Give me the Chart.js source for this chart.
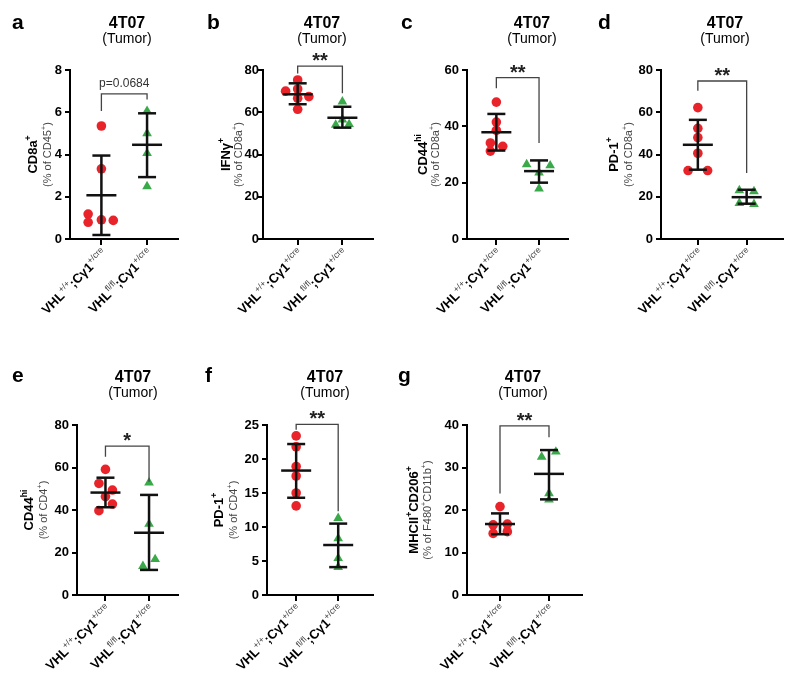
<!DOCTYPE html>
<html>
<head>
<meta charset="utf-8">
<script src="https://cdn.jsdelivr.net/npm/chart.js@4.4.1/dist/chart.umd.min.js"></script>
<style>
  html, body { margin: 0; padding: 0; background: #fff; }
  #fig { position: relative; width: 800px; height: 691px; overflow: hidden; background: #fff; }
  #fig canvas { position: absolute; }
</style>
</head>
<body>
<div id="fig"></div>
<script>
const FONT = '"Liberation Sans", Arial, Helvetica, sans-serif';
const RED = '#e8232a';
const GREEN = '#3aa94a';
const INK = '#111';

// text, ^{...} marks a superscript
const categories = ['VHL^{+/+};Cγ1^{+/cre}', 'VHL^{fl/fl};Cγ1^{+/cre}'];
const panelLetters = ['a', 'b', 'c', 'd', 'e', 'f', 'g'];
const titleLine1 = '4T07';
const titleLine2 = '(Tumor)';
const yTitles = ['CD8a^{+}', 'IFNγ^{+}', 'CD44^{hi}', 'PD-1^{+}', 'CD44^{hi}', 'PD-1^{+}', 'MHCII^{+}CD206^{+}'];
const ySubtitles = ['(% of CD45^{+})', '(% of CD8a^{+})', '(% of CD8a^{+})', '(% of CD8a^{+})',
  '(% of CD4^{+})', '(% of CD4^{+})', '(% of F480^{+}CD11b^{+})'];
const yMax = [8, 80, 60, 80, 80, 25, 40];
const yStep = [2, 20, 20, 20, 20, 5, 10];

// VHL+/+ (red circles)
const wtValues = [
  [5.35, 3.32, 1.18, 0.79, 0.91, 0.88],
  [75.3, 71.0, 70.0, 66.6, 67.4, 61.4],
  [48.6, 41.5, 38.6, 34.1, 32.9, 31.2],
  [62.2, 52.4, 48.0, 40.6, 32.4, 32.4],
  [59.1, 52.5, 49.4, 46.3, 42.8, 39.7],
  [23.4, 21.8, 18.9, 17.5, 15.0, 13.1],
  [20.8, 16.5, 16.7, 14.5, 14.9],
];
const wtJitter = [
  [0, 0, -0.29, -0.29, 0, 0.26],
  [0, 0, -0.27, 0, 0.25, 0],
  [0, 0, 0, -0.14, 0.15, -0.14],
  [0, 0, 0, 0, -0.2, 0.2],
  [0, -0.15, 0.16, 0, 0.16, -0.15],
  [0, 0, 0, 0, 0, 0],
  [0, -0.14, 0.15, -0.14, 0.15],
];
// VHL fl/fl (green triangles)
const koValues = [
  [6.06, 5.0, 4.06, 2.49],
  [65.0, 56.5, 54.0, 54.3],
  [26.5, 26.1, 23.5, 17.9],
  [23.0, 22.5, 17.0, 16.5],
  [52.9, 33.4, 16.8, 13.6],
  [11.3, 8.3, 5.4, 4.1],
  [32.5, 33.7, 23.9, 22.4],
];
const koJitter = [
  [0, 0, 0, 0],
  [0, 0, -0.15, 0.15],
  [-0.29, 0.26, 0, 0],
  [-0.15, 0.15, -0.15, 0.15],
  [0, 0, 0.14, -0.14],
  [0, 0, 0, 0],
  [-0.15, 0.14, 0, 0],
];

// mean +/- SD as drawn
const wtMean = [2.07, 68.5, 37.9, 44.6, 48.2, 18.3, 16.7];
const wtSdLow = [0.19, 63.8, 31.4, 32.8, 41.3, 14.3, 14.3];
const wtSdHigh = [3.95, 73.7, 44.4, 56.4, 55.2, 22.2, 19.2];
const koMean = [4.46, 57.4, 24.1, 19.8, 29.3, 7.35, 28.5];
const koSdLow = [2.93, 52.7, 20.0, 16.7, 11.8, 4.1, 22.5];
const koSdHigh = [5.95, 62.6, 27.9, 23.3, 47.1, 10.5, 34.1];

// significance brackets
const sigLabels = ['p=0.0684', '**', '**', '**', '*', '**', '**'];
const bracketTop = [6.87, 81.8, 57.3, 74.8, 70.1, 25.1, 39.8];
const bracketLeftEnd = [6.06, 78.4, 53.5, 70.2, 65.1, 24.3, 23.9];
const bracketRightEnd = [6.6, 69.0, 34.1, 31.2, 53.3, 12.3, 37.1];

// page layout of each panel (pixels)
const LAYOUT = [
  { left: 0, top: 0, w: 195, h: 330, axisX: 70, axisTop: 70, axisBottom: 239, right: 183, cat1: 103, cat2: 151,
    titleX: 127, titleY: 28, letterX: 12, letterY: 29, yTitleX: 32, ySubX: 47, tickPad: 3 },
  { left: 195, top: 0, w: 195, h: 330, axisX: 263, axisTop: 70, axisBottom: 239, right: 383, cat1: 301, cat2: 350,
    titleX: 322, titleY: 28, letterX: 207, letterY: 29, yTitleX: 225, ySubX: 238, tickPad: -1 },
  { left: 390, top: 0, w: 195, h: 330, axisX: 467, axisTop: 70, axisBottom: 239, right: 580, cat1: 500, cat2: 548,
    titleX: 532, titleY: 28, letterX: 401, letterY: 29, yTitleX: 422, ySubX: 435, tickPad: 3 },
  { left: 585, top: 0, w: 215, h: 330, axisX: 661, axisTop: 70, axisBottom: 239, right: 783, cat1: 698, cat2: 747,
    titleX: 725, titleY: 28, letterX: 598, letterY: 29, yTitleX: 613, ySubX: 628, tickPad: 3 },
  { left: 0, top: 330, w: 195, h: 361, axisX: 77, axisTop: 425, axisBottom: 595, right: 190, cat1: 109, cat2: 158,
    titleX: 133, titleY: 382, letterX: 12, letterY: 382, yTitleX: 28, ySubX: 43, tickPad: 3 },
  { left: 195, top: 330, w: 195, h: 361, axisX: 267, axisTop: 425, axisBottom: 595, right: 390, cat1: 301, cat2: 350,
    titleX: 325, titleY: 382, letterX: 205, letterY: 382, yTitleX: 218, ySubX: 233, tickPad: 3 },
  { left: 390, top: 330, w: 210, h: 361, axisX: 467, axisTop: 425, axisBottom: 595, right: 582, cat1: 500, cat2: 549,
    titleX: 523, titleY: 382, letterX: 398, letterY: 382, yTitleX: 413, ySubX: 427, tickPad: 3 },
];

function parseRich(str) {
  const parts = [];
  const re = /\^\{([^}]*)\}/g;
  let last = 0;
  let m;
  while ((m = re.exec(str))) {
    if (m.index > last) parts.push({ t: str.slice(last, m.index), sup: false });
    parts.push({ t: m[1], sup: true });
    last = re.lastIndex;
  }
  if (last < str.length) parts.push({ t: str.slice(last), sup: false });
  return parts;
}

function drawRich(ctx, str, x, y, o) {
  const parts = parseRich(str);
  const fMain = `${o.weight} ${o.size}px ${FONT}`;
  const fSup = `${o.supWeight || o.weight} ${o.size * 0.66}px ${FONT}`;
  let total = 0;
  const widths = parts.map((p) => {
    ctx.font = p.sup ? fSup : fMain;
    const w = ctx.measureText(p.t).width;
    total += w;
    return w;
  });
  let cx = o.align === 'right' ? x - total : o.align === 'center' ? x - total / 2 : x;
  ctx.textAlign = 'left';
  ctx.textBaseline = 'alphabetic';
  parts.forEach((p, k) => {
    ctx.font = p.sup ? fSup : fMain;
    ctx.fillStyle = p.sup ? (o.supColor || o.color) : o.color;
    ctx.fillText(p.t, cx, p.sup ? y - o.size * 0.42 : y);
    cx += widths[k];
  });
}

function rotatedRich(ctx, str, x, y, angle, o) {
  ctx.save();
  ctx.translate(x, y);
  ctx.rotate(angle);
  drawRich(ctx, str, 0, o.size * 0.36, o);
  ctx.restore();
}

const overlay = {
  id: 'overlay',
  afterDraw(chart, _args, opts) {
    const p = opts.panel;
    const L = LAYOUT[p];
    const ctx = chart.ctx;
    const xs = chart.scales.x;
    const ys = chart.scales.y;
    const ox = L.left;
    const oy = L.top;
    ctx.save();

    ctx.fillStyle = '#000';
    ctx.textBaseline = 'alphabetic';
    ctx.textAlign = 'left';
    ctx.font = `bold 21px ${FONT}`;
    ctx.fillText(panelLetters[p], L.letterX - ox, L.letterY - oy);

    ctx.textAlign = 'center';
    ctx.font = `bold 16px ${FONT}`;
    ctx.fillText(titleLine1, L.titleX - ox, L.titleY - oy);
    ctx.font = `14px ${FONT}`;
    ctx.fillText(titleLine2, L.titleX - ox, L.titleY + 15 - oy);

    const midY = (ys.top + ys.bottom) / 2;
    rotatedRich(ctx, yTitles[p], L.yTitleX - ox, midY, -Math.PI / 2,
      { size: 13, weight: 'bold', align: 'center', color: '#000' });
    rotatedRich(ctx, ySubtitles[p], L.ySubX - ox, midY, -Math.PI / 2,
      { size: 11, weight: 'normal', align: 'center', color: '#444' });

    categories.forEach((c, k) => {
      const px = xs.getPixelForValue(k + 1);
      rotatedRich(ctx, c, px + 3, ys.bottom + 12, -Math.PI / 4,
        { size: 13, weight: 'bold', supWeight: 'normal', align: 'right', color: '#000', supColor: '#444' });
    });

    const x1 = xs.getPixelForValue(1);
    const x2 = xs.getPixelForValue(2);
    const yt = ys.getPixelForValue(bracketTop[p]);
    ctx.strokeStyle = '#444';
    ctx.lineWidth = 1.3;
    ctx.beginPath();
    ctx.moveTo(x1, ys.getPixelForValue(bracketLeftEnd[p]));
    ctx.lineTo(x1, yt);
    ctx.lineTo(x2, yt);
    ctx.lineTo(x2, ys.getPixelForValue(bracketRightEnd[p]));
    ctx.stroke();

    ctx.textAlign = 'center';
    ctx.textBaseline = 'alphabetic';
    if (sigLabels[p].startsWith('p')) {
      ctx.font = `12px ${FONT}`;
      ctx.fillStyle = '#333';
      ctx.fillText(sigLabels[p], (x1 + x2) / 2, yt - 7);
    } else {
      ctx.font = `bold 20px ${FONT}`;
      ctx.fillStyle = '#222';
      ctx.fillText(sigLabels[p], (x1 + x2) / 2, yt + 1);
    }
    ctx.restore();
  },
};

function buildDatasets(p) {
  const errBar = (xc, lo, hi) => ({
    data: [{ x: xc, y: lo }, { x: xc, y: hi }],
    showLine: true,
    borderColor: INK,
    borderWidth: 2.5,
    pointStyle: 'line',
    pointRadius: 9,
    pointBorderWidth: 2.5,
    pointBorderColor: INK,
    clip: false,
  });
  return [
    {
      data: [{ x: 1, y: wtMean[p] }, { x: 2, y: koMean[p] }],
      pointStyle: 'line',
      pointRadius: 15,
      pointBorderWidth: 2.5,
      pointBorderColor: INK,
      clip: false,
    },
    errBar(1, wtSdLow[p], wtSdHigh[p]),
    errBar(2, koSdLow[p], koSdHigh[p]),
    {
      data: wtValues[p].map((v, k) => ({ x: 1 + wtJitter[p][k], y: v })),
      pointStyle: 'circle',
      pointRadius: 4.8,
      pointBackgroundColor: RED,
      pointBorderWidth: 0,
      clip: false,
    },
    {
      data: koValues[p].map((v, k) => ({ x: 2 + koJitter[p][k], y: v })),
      pointStyle: 'triangle',
      pointRadius: 5.6,
      pointBackgroundColor: GREEN,
      pointBorderWidth: 0,
      clip: false,
    },
  ];
}

function makePanel(p) {
  const L = LAYOUT[p];
  const canvas = document.createElement('canvas');
  canvas.width = L.w;
  canvas.height = L.h;
  canvas.style.left = L.left + 'px';
  canvas.style.top = L.top + 'px';
  document.getElementById('fig').appendChild(canvas);

  const span = L.cat2 - L.cat1;
  const xMin = 1 - (L.cat1 - L.axisX) / span;
  const xMax = 2 + (L.right - L.cat2) / span;

  new Chart(canvas, {
    type: 'scatter',
    data: { datasets: buildDatasets(p) },
    options: {
      responsive: false,
      animation: false,
      events: [],
      layout: { padding: { left: 0, top: L.axisTop - L.top, right: L.left + L.w - L.right, bottom: 0 } },
      plugins: { legend: { display: false }, tooltip: { enabled: false }, overlay: { panel: p } },
      scales: {
        x: {
          type: 'linear',
          min: xMin,
          max: xMax,
          afterBuildTicks: (s) => { s.ticks = [{ value: 1 }, { value: 2 }]; },
          afterFit: (s) => { s.height = L.top + L.h - L.axisBottom; },
          ticks: { display: false },
          grid: { drawOnChartArea: false, drawTicks: true, tickLength: 6, color: '#000', lineWidth: 2 },
          border: { color: '#000', width: 2 },
        },
        y: {
          min: 0,
          max: yMax[p],
          afterFit: (s) => { s.width = L.axisX - L.left; },
          ticks: { stepSize: yStep[p], color: '#000', padding: L.tickPad, font: { family: FONT, size: 13, weight: 'bold' } },
          grid: { drawOnChartArea: false, drawTicks: true, tickLength: 5, color: '#000', lineWidth: 2 },
          border: { color: '#000', width: 2 },
        },
      },
    },
    plugins: [overlay],
  });
}

LAYOUT.forEach((_, p) => makePanel(p));
</script>
</body>
</html>
